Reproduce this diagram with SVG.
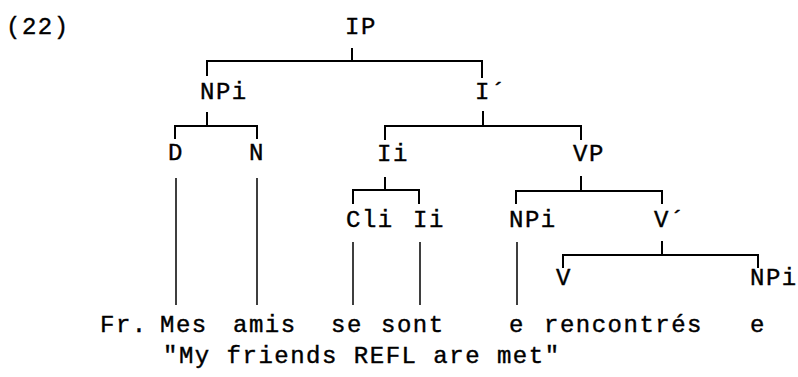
<svg xmlns="http://www.w3.org/2000/svg" width="798" height="377" viewBox="0 0 798 377">
  <style>
    .t { font-family: "Courier New", "Liberation Mono", "DejaVu Sans Mono", monospace; font-size: 24px; letter-spacing: 1.5px; fill: #000; stroke: #000; stroke-width: 0.4; }
    .e { fill: none; stroke: #000; stroke-width: 2; stroke-linecap: square; }
    .v { fill: none; stroke: #000; stroke-width: 1.5; }
  </style>
  <rect width="798" height="377" fill="#fff"/>

  <text class="t" x="6" y="34">(22)</text>

  <!-- tree nodes -->
  <g id="IP"><text class="t" x="345" y="34">IP</text></g>
  <g id="NPi-subj"><text class="t" x="200" y="99">NPi</text></g>
  <g id="I-bar"><text class="t" x="475" y="99">I´</text></g>
  <g id="D"><text class="t" x="168" y="160">D</text></g>
  <g id="N"><text class="t" x="249" y="160">N</text></g>
  <g id="Ii"><text class="t" x="377" y="161">Ii</text></g>
  <g id="VP"><text class="t" x="573" y="161">VP</text></g>
  <g id="Cli"><text class="t" x="346" y="227">Cli</text></g>
  <g id="Ii-2"><text class="t" x="413" y="227">Ii</text></g>
  <g id="NPi-trace"><text class="t" x="509" y="227">NPi</text></g>
  <g id="V-bar"><text class="t" x="654" y="227">V´</text></g>
  <g id="V"><text class="t" x="556" y="285">V</text></g>
  <g id="NPi-obj"><text class="t" x="750" y="285">NPi</text></g>

  <!-- branches -->
  <g id="connectors">
    <path class="e" d="M352 49V61 M207 75V61H482V77"/>
    <path class="e" d="M207 113V126 M175 138V126H257V138"/>
    <path class="e" d="M483 112V126 M385 139V126H581V139"/>
    <path class="e" d="M385 178V190 M353 203V190H419V203"/>
    <path class="e" d="M581 177V191 M516 203V191H662V203"/>
    <path class="e" d="M662 242V255 M563 267V255H758V267"/>
    <path class="v" d="M176 178V305 M257 178V305 M353 242V305 M420 242V305 M517 242V305"/>
  </g>

  <!-- French sentence and gloss -->
  <g id="sentence">
    <text class="t" x="100" y="332">Fr.</text>
    <text class="t" x="160" y="332">Mes</text>
    <text class="t" x="233" y="332">amis</text>
    <text class="t" x="331" y="332">se</text>
    <text class="t" x="381" y="332">sont</text>
    <text class="t" x="509" y="332">e</text>
    <text class="t" x="544" y="332">rencontrés</text>
    <text class="t" x="750" y="332">e</text>
  </g>
  <text class="t" x="163" y="363" letter-spacing="1.1">"My friends REFL are met"</text>
</svg>
